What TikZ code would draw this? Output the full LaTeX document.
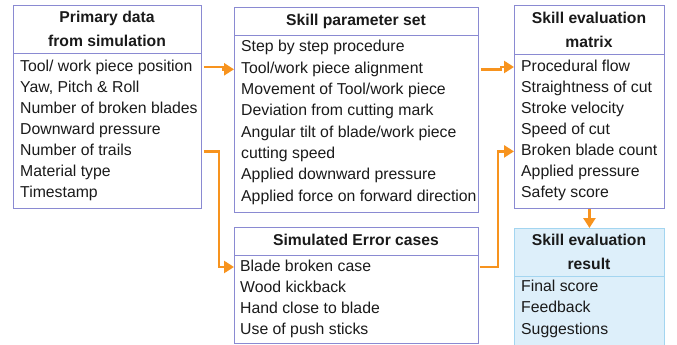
\documentclass[tikz,border=0pt]{standalone}
\usepackage{fontspec}
\setmainfont{Liberation Sans}
\usetikzlibrary{arrows.meta, positioning}
\definecolor{flowOrange}{HTML}{F7931E}
\definecolor{frameBlue}{HTML}{8A8AD2}
\definecolor{resultFill}{HTML}{DDEFFA}
\definecolor{resultLine}{HTML}{A3D5F0}
\definecolor{txt}{HTML}{1A1A1A}

\begin{document}
\begin{tikzpicture}[x=1pt, y=-1pt,
              box/.style={draw=frameBlue, line width=0.9pt, anchor=north west, inner sep=0pt},
              hdr/.style={font=\fontsize{15.7}{24}\selectfont\bfseries, align=center, text=txt, inner sep=0pt},
              item/.style={font=\fontsize{15.8}{21}\selectfont, anchor=west, text=txt, inner sep=0pt,
                text height=11.5pt, text depth=3.5pt},
              flow/.style={draw=flowOrange, line width=2.6pt, -{Triangle[length=10pt, width=12pt]}}
            ]
            \useasboundingbox (0,0) rectangle (677,345);

            % Boxes
            \node[box, minimum width=188pt, minimum height=203pt] (b1) at (13,5) {};
            \node[box, minimum width=244pt, minimum height=205pt] (b2) at (234,7) {};
            \node[box, minimum width=150pt, minimum height=203pt] (b3) at (514,5) {};
            \node[box, minimum width=244pt, minimum height=116pt] (b4) at (234,227) {};
            \node[box, draw=resultLine, fill=resultFill, minimum width=150pt, minimum height=125pt] (b5) at (514,228) {};

            % Header lines
            \draw[frameBlue, line width=0.9pt] (b1.west |- 0,53) -- (b1.east |- 0,53);
            \draw[frameBlue, line width=0.9pt] (b2.west |- 0,35) -- (b2.east |- 0,35);
            \draw[frameBlue, line width=0.9pt] (b3.west |- 0,54) -- (b3.east |- 0,54);
            \draw[frameBlue, line width=0.9pt] (b4.west |- 0,255) -- (b4.east |- 0,255);
            \draw[resultLine, line width=0.9pt] (b5.west |- 0,276) -- (b5.east |- 0,276);

            % Headers
            \node[hdr] (h1) at (107,29) {Primary data\\from simulation};
            \node[hdr] (h2) at (356,21) {Skill parameter set};
            \node[hdr] (h3) at (589,29.5) {Skill evaluation\\matrix};
            \node[hdr] (h4) at (356,240) {Simulated Error cases};
            \node[hdr] (h5) at (589,251.5) {Skill evaluation\\result};

            % Items
            \foreach \t [count=\i] in {Tool/ work piece position, {Yaw, Pitch \& Roll}, Number of broken blades,
                Downward pressure, Number of trails, Material type, Timestamp}
              \node[item] (p1-\i) at (20,{67+21.1*(\i-1)}) {\t};
            \foreach \t [count=\i] in {Step by step procedure, Tool/work piece alignment, Movement of Tool/work piece,
                Deviation from cutting mark, Angular tilt of blade/work piece, cutting speed,
                Applied downward pressure, Applied force on forward direction}
              \node[item] (p2-\i) at (241,{48+21.3*(\i-1)}) {\t};
            \foreach \t [count=\i] in {Procedural flow, Straightness of cut, Stroke velocity, Speed of cut,
                Broken blade count, Applied pressure, Safety score}
              \node[item] (p3-\i) at (521,{67+21.1*(\i-1)}) {\t};
            \foreach \t [count=\i] in {Blade broken case, Wood kickback, Hand close to blade, Use of push sticks}
              \node[item] (p4-\i) at (240,{267+21.3*(\i-1)}) {\t};
            \foreach \t [count=\i] in {Final score, Feedback, Suggestions}
              \node[item] (p5-\i) at (521,{287+21.5*(\i-1)}) {\t};

            % Flows
            \draw[flow] ([xshift=2pt]b1.east |- p1-1) -- ++(19,0) |- (b2.west |- p2-2);
            \draw[flow] ([xshift=2pt]b2.east |- p2-2) -- ++(20,0) |- (b3.west |- p3-1);
            \draw[flow] ([xshift=2pt]b1.east |- p1-5) -- ++(15,0) |- (b4.west |- p4-1);
            \draw[flow] ([xshift=1pt]b4.east |- p4-1) -- ++(18,0) |- (b3.west |- p3-5);
            \draw[flow] (b3.south) -- (b5.north);

            \end{tikzpicture}
\end{document}
